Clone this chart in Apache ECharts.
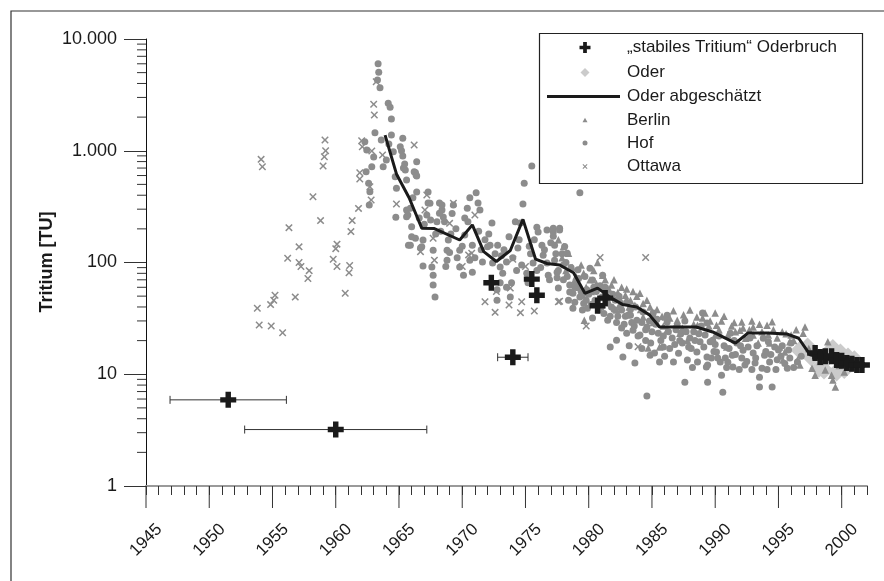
<!DOCTYPE html>
<html><head><meta charset="utf-8">
<script src="https://cdn.jsdelivr.net/npm/echarts@6/dist/echarts.min.js"></script>
<style>html,body{margin:0;padding:0;background:#fff}#c{width:884px;height:581px}</style>
</head><body><div id="c"></div>
<script>
// ---------- tick values ----------
const xMajorTicks = [1945,1950,1955,1960,1965,1970,1975,1980,1985,1990,1995,2000];
const yMinorTicks = [2,3,4,5,6,7,8,9,20,30,40,50,60,70,80,90,200,300,400,500,600,700,800,900,2000,3000,4000,5000,6000,7000,8000,9000];
const yTickLabels = {1:'1',10:'10',100:'100',1000:'1.000',10000:'10.000'};
const seriesNames = ['\u201Estabiles Tritium\u201C Oderbruch','Oder','Oder abgesch\u00e4tzt','Berlin','Hof','Ottawa'];

// ---------- data [year, TU] ----------
const stabilesTritium = [[1951.5,5.9],[1960.0,3.2],[1974.0,14.2],[1972.3,66],[1975.5,71],[1975.9,51],[1980.7,41],[1981.3,48],
 [1997.9,15.5],[1998.3,14.3],[1998.7,14.5],[1999.2,14.5],[1999.6,13.4],[2000.0,13.2],[2000.4,12.6],[2000.8,12.4],[2001.2,12.1],[2001.6,12.1]];
const errorBars = [[1946.9,1956.1,5.9],[1952.8,1967.2,3.2],[1972.8,1975.2,14.2]];
const oder = [[1996.7,16.4],[1997.3,17.5],[1997.6,14.3],[1998.2,11.3],[1998.6,10.9],[1998.9,14.3],[1999.3,17],[1999.6,10.5],
 [1999.9,15.5],[2000.2,11],[2000.5,14.3],[2000.8,12.6],[2001.0,13.5]];
const oderEst = [[1963.9,1380],[1964.8,620],[1965.8,380],[1966.8,203],[1967.8,201],[1969.8,159],[1970.8,217],[1971.7,125],
 [1972.7,102],[1973.8,128],[1974.8,243],[1975.8,107],[1976.7,98],[1977.7,95],[1978.8,81],[1979.7,53],[1980.7,59],[1981.8,48],
 [1982.7,42],[1983.8,40],[1984.8,34],[1985.6,26.5],[1987.2,26.5],[1988.5,26.5],[1989.8,23.9],[1991.6,19],[1992.6,23.4],
 [1994.1,23.4],[1995.7,22.9],[1996.6,21],[1997.5,14.9],[1998.5,14],[1999.5,13.2],[2000.5,12.5],[2001.4,12.1]];
const berlin = [[1977.6,160],[1977.9,110],[1978.0,139],[1978.4,121],[1978.7,90],[1979.0,75],[1979.4,95],[1979.65,30.5],[1979.8,60],
 [1980.1,70],[1980.4,85],[1980.7,100],[1980.9,60],[1981.1,77],[1981.5,51],[1981.8,63],[1982.0,70],[1982.3,54],[1982.2,37.5],
 [1982.6,60],[1982.9,51],[1983.3,46],[1983.65,41.5],[1983.5,55],[1984.05,53],[1984.3,43],[1984.6,46],[1984.85,40],[1984.3,32.5],
 [1984.7,17.2],[1985.1,29],[1985.4,38],[1985.6,17.5],[1985.8,33],[1986.05,32.5],[1986.4,31.8],[1986.7,37],[1987.0,30.5],
 [1987.2,23.3],[1987.5,34],[1987.8,20.2],[1988.0,37.5],[1988.3,28],[1988.55,32.5],[1988.8,24],[1989.0,31.8],[1989.2,35.3],
 [1989.5,27],[1990.0,35.3],[1990.1,27.5],[1990.0,22.4],[1990.5,30],[1990.9,17.5],[1991.0,22.4],[1991.3,27],[1991.6,24],
 [1991.95,24.8],[1992.1,29.3],[1992.4,21],[1992.7,25],[1993.0,26.5],[1993.0,22.4],[1993.4,19],[1993.7,24],[1994.1,27.5],
 [1994.2,22.4],[1994.3,19],[1994.6,25],[1994.9,21.1],[1995.1,17.5],[1995.5,15.8],[1995.9,19.5],[1995.35,13.4],[1995.6,23],
 [1996.2,20],[1996.5,13.4],[1996.7,12.1],[1997.1,26.5],[1996.95,23.3],[1997.4,17],[1997.65,11.3],[1997.9,9.8],[1998.3,13],
 [1998.7,10.9],[1998.9,19.5],[1999.2,9.8],[1999.3,8.9],[1999.5,7.7],[1999.8,12],[2000.2,10.5],[2000.5,14],[2000.9,11.5],
 [1978.2,85],[1978.9,70],[1979.2,60],[1979.6,80],[1980.2,55],[1980.6,65],[1981.3,70],[1981.6,58],[1982.5,47],[1983.0,58],
 [1983.2,40],[1983.8,50],[1984.1,38],[1985.2,33],[1985.9,27],[1986.2,25],[1986.9,28],[1987.4,26],[1988.6,27.5],[1989.6,30],
 [1990.3,25],[1990.7,33],[1991.5,29],[1992.2,26],[1992.9,30],[1993.5,28],[1994.5,29.5],[1995.3,24],[1996.0,22.5],[1996.4,25]];
const hof = [[1962.3,1205],[1962.45,1016],[1962.6,511],[1962.7,430],[1962.65,327],[1962.85,720],[1962.4,650],
 [1963.1,1452],[1963.35,6010],[1963.4,5030],[1963.3,4300],[1963.5,3665],[1963.75,720],[1963.0,880],[1963.6,1250],
 [1964.0,826],[1964.15,2660],[1964.3,2450],[1964.4,1925],[1964.4,1384],[1964.7,586],[1964.8,461],[1964.75,254],[1964.2,1150],[1964.55,980],
 [1965.1,1087],[1965.3,1292],[1965.3,897],[1965.5,673],[1965.6,295],[1965.6,257],[1965.75,143],[1965.35,700],[1965.6,547],[1965.9,306],[1965.7,266],[1965.2,1000],[1965.45,760],
 [1966.3,640],[1966.35,608],[1966.4,428],[1966.0,170],[1965.9,143],[1966.7,135],[1966.9,159],[1966.9,93],[1966.4,798],[1966.2,650],[1966.4,594],[1966.0,209],[1966.3,165],[1966.8,138],[1966.6,250],[1966.1,380],
 [1967.3,428],[1967.3,341],[1967.2,266],[1967.7,129],[1967.6,91],[1967.7,77],[1967.7,63],[1967.85,49],[1967.45,339],[1967.0,220],[1967.9,180],[1967.5,240],
 [1968.2,341],[1968.4,295],[1968.5,255],[1968.0,232],[1968.9,159],[1968.8,105],[1968.4,327],[1968.2,276],[1968.6,232],[1968.8,129],[1968.7,92],[1968.3,190],
 [1969.2,275],[1969.3,327],[1969.0,123],[1969.6,110],[1969.8,91],[1969.8,129],[1969.5,200],[1969.1,180],
 [1970.4,306],[1970.2,250],[1970.45,232],[1970.2,176],[1970.8,143],[1970.6,105],[1970.8,82],[1970.1,77],[1970.6,380],[1970.0,140],
 [1971.1,420],[1971.25,341],[1971.4,295],[1971.6,101],[1971.3,190],[1971.8,160],[1971.5,130],[1971.0,110],
 [1972.0,138],[1972.35,226],[1972.2,143],[1972.8,143],[1972.4,99],[1972.75,57],[1972.75,46],[1972.6,120],[1972.1,180],
 [1973.0,91],[1973.2,80],[1973.5,101],[1973.0,66],[1973.5,60],[1973.9,66],[1973.8,49],[1973.3,130],[1973.7,170],[1973.1,115],
 [1974.3,85],[1974.4,135],[1974.2,232],[1974.6,226],[1974.8,334],[1974.9,511],[1974.5,160],[1974.0,110],[1974.7,95],
 [1975.5,730],[1975.1,80],[1975.2,66],[1975.6,99],[1975.9,85],[1975.9,207],[1975.3,140],[1975.7,160],[1975.4,120],
 [1976.0,187],[1976.3,143],[1976.4,116],[1976.8,77],[1976.9,70],[1976.7,99],[1976.7,195],[1976.2,90],[1976.5,130],
 [1977.2,203],[1977.3,105],[1977.6,85],[1977.3,143],[1977.2,187],[1977.7,203],[1977.7,195],[1977.2,172],[1977.5,82],[1977.6,59],[1977.5,73],[1977.9,120],
 [1978.1,139],[1978.3,121],[1978.5,54.5],[1978.4,46],[1978.0,70],[1978.5,63],[1978.75,53],[1978.9,44],[1978.75,39],[1978.6,90],[1978.2,100],
 [1979.15,86],[1979.5,37.5],[1979.5,51],[1979.3,49],[1979.85,57],[1979.6,43],[1979.9,39],[1979.3,421],[1979.7,75],[1979.0,65],
 [1980.1,89],[1980.3,69.6],[1980.3,31.8],[1980.5,46],[1980.8,37.5],[1980.6,55],[1980.9,62],[1980.2,42],
 [1981.1,77],[1981.3,60],[1981.5,30.5],[1981.7,17.5],[1981.8,40],[1981.05,49],[1981.5,43],[1981.9,52],[1981.2,35],
 [1982.2,29],[1982.6,26],[1982.7,14.3],[1982.6,37.5],[1982.1,46],[1982.5,40],[1982.2,20.2],[1982.9,33],[1982.4,50],
 [1983.0,44],[1983.3,33.8],[1983.5,24.8],[1983.65,12.6],[1983.1,33.8],[1983.4,29],[1983.8,30.5],[1983.0,23.3],[1983.7,40],[1983.2,18],
 [1984.05,22.4],[1984.6,26.5],[1984.85,14.8],[1984.6,6.4],[1984.3,36],[1984.8,30],[1984.2,17],[1984.5,20],
 [1985.1,35.3],[1985.5,23.3],[1985.6,12.9],[1985.9,17.5],[1985.3,28],[1985.7,20],[1985.2,15.5],
 [1986.2,29.3],[1986.6,21.1],[1986.7,12.9],[1986.2,33.8],[1986.4,17],[1986.9,25],[1986.0,14.5],
 [1987.1,15.4],[1987.4,19],[1987.6,8.5],[1987.8,13.4],[1987.0,27],[1987.3,23.3],[1987.6,30],[1987.9,17.5],
 [1988.0,21.1],[1988.55,15.8],[1988.6,12.9],[1988.3,24],[1988.8,19.5],[1988.2,11.5],[1988.9,27],
 [1989.0,35.3],[1989.3,11.6],[1989.4,8.5],[1989.35,28.7],[1989.2,22.4],[1989.6,19.5],[1989.35,14.3],[1989.4,12.1],[1989.8,20.2],[1989.9,16],
 [1990.1,15.8],[1990.4,12.9],[1990.5,9.8],[1990.6,6.9],[1990.2,14],[1990.7,18],[1990.9,11.5],[1990.3,22],
 [1991.2,23.3],[1991.35,14.8],[1991.4,11.6],[1991.7,19],[1991.0,12.8],[1991.6,15],[1991.9,11],
 [1992.1,14],[1992.2,16.4],[1992.35,12.1],[1992.75,21.1],[1992.5,13],[1992.9,11],[1992.0,18],
 [1993.0,15.5],[1993.15,12.6],[1993.5,9.4],[1993.7,11.3],[1993.5,7.7],[1993.9,14.8],[1993.3,18],[1993.8,21],
 [1994.3,12.9],[1994.5,7.7],[1994.7,17.5],[1994.1,11],[1994.4,15],[1994.9,13.5],[1994.2,19.5],
 [1995.7,11.3],[1995.2,14.5],[1995.5,12.5],[1995.0,16.5],[1995.9,14],
 [1996.5,12.9],[1996.2,11.5],[1996.8,14.5],[1996.0,19],
 [1977.0,150],[1977.4,120],[1978.0,95],[1978.3,75],[1978.9,60],[1979.2,72],[1979.4,55],[1979.8,46],[1980.0,52],[1980.4,60],
 [1980.7,45],[1981.0,40],[1981.4,55],[1981.7,33],[1982.0,38],[1982.3,33],[1982.8,28],[1983.3,38],[1983.6,27],[1983.9,22],
 [1984.2,29],[1984.5,25],[1984.9,19],[1985.0,24],[1985.4,31],[1985.9,22],[1986.3,24],[1986.8,18.5],[1987.2,20],[1987.7,24],
 [1988.1,17],[1988.4,20],[1988.7,23],[1989.1,17.5],[1989.7,14],[1990.0,18.5],[1990.8,14],[1991.1,17],[1991.5,20],[1992.6,17.5],
 [1993.2,14],[1994.0,16],[1994.8,11],[1995.3,18],[1995.8,16.5]];
const ottawa = [[1954.1,838],[1954.2,720],[1959.15,1248],[1959.2,1000],[1959.1,885],[1959.0,730],[1958.2,388],[1958.8,237],
 [1956.3,205],[1957.1,138],[1956.2,109],[1957.1,100],[1957.25,92],[1957.9,84.5],[1957.8,72],[1953.8,39],[1954.85,42],
 [1955.2,51],[1955.1,46],[1956.8,49],[1953.95,27.6],[1954.9,27],[1955.8,23.5],[1960.1,146],[1960.0,133],[1959.8,107],
 [1960.1,92],[1961.1,94],[1961.05,81],[1960.75,53],[1961.2,189],[1961.3,237],[1961.8,305],[1961.9,636],[1961.9,559],
 [1962.7,476],[1962.8,362],[1963.0,2605],[1963.05,2090],[1962.05,1230],[1962.1,1087],[1962.85,995],[1963.7,916],
 [1964.8,334],[1963.2,4150],[1966.2,1125],[1967.2,402],[1967.05,295],[1969.3,339],[1969.0,224],[1971.0,266],[1966.7,125],
 [1967.7,165],[1967.8,105],[1970.0,92],[1970.75,121],[1971.8,44.6],[1972.6,35.8],[1973.8,59],[1973.7,41.7],[1974.7,44.6],
 [1974.6,35.6],[1975.7,36.8],[1975.0,92],[1972.7,55],[1977.6,44.6],[1974.0,107],[1970.5,117],[1980.9,111],[1984.5,111],
 [1977.7,45],[1979.8,27],[1983.9,17.6]];

// ---------- styling ----------
const FONT = "'Liberation Sans', Arial, Helvetica, sans-serif";
const INK = '#1a1a1a';
const GRAY = '#8c8c8c';
const PLUS_THICK = 'path://M3.3,0H6.7V3.3H10V6.7H6.7V10H3.3V6.7H0V3.3H3.3Z';
const XMARK = 'path://M0,1.4L1.4,0L5,3.6L8.6,0L10,1.4L6.4,5L10,8.6L8.6,10L5,6.4L1.4,10L0,8.6L3.6,5Z';
const TRI = 'path://M5,0L10,9L0,9Z';
const DIA = 'path://M5,0L10,5L5,10L0,5Z';
const BAR = 'path://M0,0H73V3H0Z';

const chart = echarts.init(document.getElementById('c'), null, {renderer: 'canvas'});

// legend rows: icon centre at x=585 (symbols) / bar from 547 to 620 (line); text starts at x=627
const legendRows = [
  {name: seriesNames[0], icon: PLUS_THICK, w: 11, h: 11, cy: 48},
  {name: seriesNames[1], icon: DIA, w: 9, h: 9, cy: 73},
  {name: seriesNames[2], icon: BAR, w: 73, h: 3, cy: 97, bar: true},
  {name: seriesNames[3], icon: TRI, w: 5, h: 5, cy: 120.5},
  {name: seriesNames[4], icon: 'circle', w: 5, h: 5, cy: 143.5},
  {name: seriesNames[5], icon: XMARK, w: 5, h: 5, cy: 167}
];
const legends = legendRows.map(r => {
  const left = r.bar ? 547 : 585 - r.w / 2;
  const padLeft = Math.max(0, 627 - (left + r.w) - 5);
  return {
    show: true,
    selectedMode: false,
    left: left,
    top: r.cy - 9,
    padding: 0,
    itemWidth: r.w,
    itemHeight: r.h,
    itemGap: 0,
    symbolRotate: 0,
    textStyle: {fontFamily: FONT, fontSize: 17, color: INK, padding: [0, 0, 0, padLeft]},
    data: [{name: r.name, icon: r.icon}]
  };
});

const option = {
  animation: false,
  backgroundColor: '#fff',
  textStyle: {fontFamily: FONT},
  grid: {left: 146, right: 17, top: 39, bottom: 95, outerBoundsMode: 'none', containLabel: false},
  legend: legends,
  xAxis: {
    type: 'value', min: 1945, max: 2002, interval: 1,
    splitLine: {show: false},
    axisLine: {show: true, onZero: false, lineStyle: {color: '#9a9a9a', width: 2}},
    axisTick: {show: true, inside: false, length: 9, lineStyle: {color: '#333', width: 1}},
    axisLabel: {
      show: true, rotate: 45, margin: 54, align: 'center', verticalAlign: 'middle',
      fontFamily: FONT, fontSize: 17, color: INK,
      formatter: v => (Math.round(v) % 5 === 0 && Math.round(v) <= 2000) ? String(Math.round(v)) : ''
    }
  },
  yAxis: {
    type: 'log', logBase: 10, min: 1, max: 10000,
    splitLine: {show: false},
    axisLine: {show: true, lineStyle: {color: '#111', width: 1}},
    axisTick: {show: true, inside: false, length: 22, lineStyle: {color: '#333', width: 1}},
    axisLabel: {show: true, margin: 29, fontFamily: FONT, fontSize: 18, color: INK,
      formatter: v => yTickLabels[Math.round(v)] || ''}
  },
  graphic: [
    {type: 'rect', shape: {x: 11, y: 11, width: 1000, height: 1000}, style: {fill: 'none', stroke: '#333', lineWidth: 1.2}, silent: true, z: 0},
    {type: 'rect', shape: {x: 539.5, y: 33.5, width: 323, height: 150}, style: {fill: '#fff', stroke: '#222', lineWidth: 1.2}, silent: true, z: 1},
    {type: 'text', x: 47, y: 262, rotation: Math.PI / 2,
      style: {text: 'Tritium [TU]', font: "bold 18px 'Liberation Sans', Arial, sans-serif", fill: INK, align: 'center', verticalAlign: 'middle'}, silent: true}
  ],
  series: [
    {
      name: 'xMajorTicks', type: 'custom', silent: true, clip: false, z: 1,
      data: xMajorTicks.map(t => [t, 1]),
      renderItem: (params, api) => {
        const p = api.coord([api.value(0), api.value(1)]);
        return {type: 'line', shape: {x1: p[0], y1: p[1], x2: p[0], y2: p[1] + 22}, style: {stroke: '#333', lineWidth: 1}};
      }
    },
    {
      name: 'yMinorTicks', type: 'custom', silent: true, clip: false, z: 1,
      data: yMinorTicks.map(v => [1945, v]),
      renderItem: (params, api) => {
        const p = api.coord([api.value(0), api.value(1)]);
        return {type: 'line', shape: {x1: p[0] - 9, y1: p[1], x2: p[0], y2: p[1]}, style: {stroke: '#333', lineWidth: 1}};
      }
    },
    {
      name: seriesNames[1], type: 'scatter', data: oder, symbol: DIA, symbolSize: 19, z: 2,
      itemStyle: {color: '#cbcbcb', opacity: 1}
    },
    {
      name: seriesNames[4], type: 'scatter', data: hof, symbol: 'circle', symbolSize: 7, z: 3,
      itemStyle: {color: GRAY, opacity: 1}
    },
    {
      name: seriesNames[3], type: 'scatter', data: berlin, symbol: TRI, symbolSize: 7.5, z: 3,
      itemStyle: {color: GRAY, opacity: 1}
    },
    {
      name: seriesNames[5], type: 'scatter', data: ottawa, symbol: XMARK, symbolSize: 7.5, z: 3,
      itemStyle: {color: GRAY, opacity: 1}
    },
    {
      name: seriesNames[2], type: 'line', data: oderEst, symbol: 'none', showSymbol: false, z: 4,
      lineStyle: {color: INK, width: 3}, itemStyle: {color: INK}
    },
    {
      name: 'errorBars', type: 'custom', silent: true, z: 5, clip: false,
      data: errorBars,
      encode: {x: [0, 1], y: 2},
      renderItem: (params, api) => {
        const y = api.value(2);
        const a = api.coord([api.value(0), y]);
        const b = api.coord([api.value(1), y]);
        const st = {stroke: '#333', lineWidth: 1};
        return {type: 'group', children: [
          {type: 'line', shape: {x1: a[0], y1: a[1], x2: b[0], y2: b[1]}, style: st},
          {type: 'line', shape: {x1: a[0], y1: a[1] - 4, x2: a[0], y2: a[1] + 4}, style: st},
          {type: 'line', shape: {x1: b[0], y1: b[1] - 4, x2: b[0], y2: b[1] + 4}, style: st}
        ]};
      }
    },
    {
      name: seriesNames[0], type: 'scatter', data: stabilesTritium, symbol: PLUS_THICK, symbolSize: 16, z: 6,
      itemStyle: {color: INK, opacity: 1}
    }
  ]
};
chart.setOption(option);
</script>
</body></html>
